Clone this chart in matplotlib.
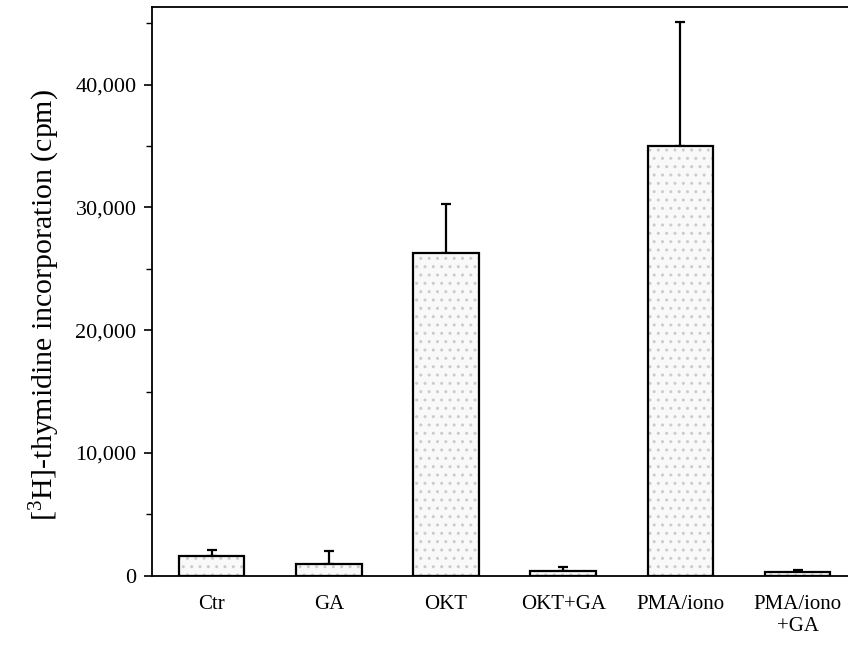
import matplotlib
matplotlib.use('Agg')
import matplotlib.pyplot as plt
import numpy as np
from matplotlib.ticker import FuncFormatter, MultipleLocator

# values
labels = ['Ctr', 'GA', 'OKT', 'OKT+GA', 'PMA/iono', 'PMA/iono\n+GA']
means = [1600, 975, 26300, 400, 35000, 330]
errs = [500, 1050, 4000, 330, 10100, 160]

plt.rcParams['font.family'] = ['Liberation Serif', 'DejaVu Serif']
plt.rcParams['mathtext.fontset'] = 'custom'
plt.rcParams['mathtext.rm'] = 'Liberation Serif'
plt.rcParams['hatch.linewidth'] = 1.0

fig = plt.figure(figsize=(8.48, 6.47), dpi=100)
ax = fig.add_axes([0.179, 0.11, 0.821, 0.879])

x = np.arange(len(labels))
# stippled fill
ax.bar(x, means, width=0.56, color='#f9f9f9', edgecolor='#cccccc',
       hatch='..', linewidth=0, zorder=2)
ax.bar(x, means, width=0.56, color='none', edgecolor='black',
       linewidth=1.6, zorder=3)
ax.errorbar(x, means, yerr=[np.zeros(len(errs)), errs], fmt='none',
            ecolor='black', elinewidth=1.6, capsize=3.6, capthick=1.6,
            zorder=1)

ax.set_xlim(-0.51, 5.43)
ax.set_ylim(0, 46300)
ax.yaxis.set_major_locator(MultipleLocator(10000))
ax.yaxis.set_minor_locator(MultipleLocator(5000))
ax.yaxis.set_major_formatter(FuncFormatter(lambda v, p: f'{int(v):,}'))
ax.tick_params(axis='y', which='major', direction='out', length=6,
               width=1.2, labelsize=16, pad=5)
ax.tick_params(axis='y', which='minor', direction='out', length=4, width=1)
ax.set_xticks(x)
ax.set_xticklabels(labels, fontsize=15)
ax.tick_params(axis='x', length=0, pad=14)

ax.spines['right'].set_visible(False)
for s in ['left', 'bottom', 'top']:
    ax.spines[s].set_linewidth(1.3)

ax.set_ylabel(r'[$\mathregular{^3}$H]-thymidine incorporation (cpm)',
              fontsize=21.5)
ax.yaxis.set_label_coords(-0.129, 0.476)

fig.savefig('out.png', dpi=100)
